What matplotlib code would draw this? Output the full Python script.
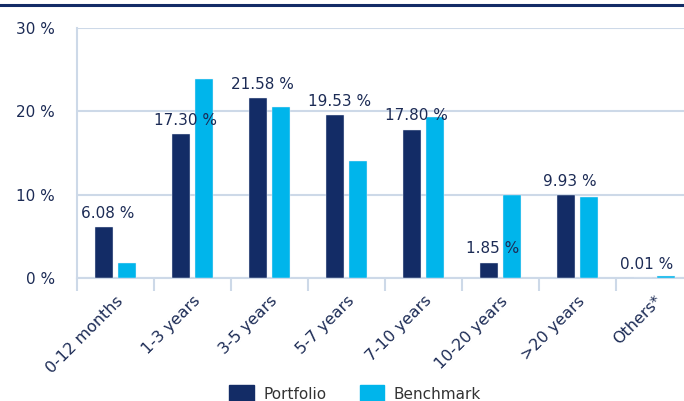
import matplotlib.pyplot as plt
import numpy as np
from matplotlib.patches import Patch
from matplotlib.lines import Line2D

categories = ['0-12 months', '1-3 years', '3-5 years', '5-7 years',
              '7-10 years', '10-20 years', '>20 years', 'Others*']
portfolio = [6.08, 17.30, 21.58, 19.53, 17.80, 1.85, 9.93, 0.01]
benchmark = [1.8, 23.9, 20.55, 14.0, 19.35, 10.0, 9.7, 0.3]
yticks = [0, 10, 20, 30]

NAVY = '#132c66'
CYAN = '#00b5eb'
TEXT = '#1c2b55'
GRID = '#cdd9e8'

plt.rcParams['font.family'] = 'DejaVu Sans'

fig = plt.figure(figsize=(6.84, 4.01), dpi=100)
ax = fig.add_axes([77 / 684, 1 - 278 / 401, (693 - 77) / 684, 250 / 401])

x = np.arange(len(categories))
w = 0.225
ax.bar(x - 0.15, portfolio, w, color=NAVY, edgecolor='#e8eef6', linewidth=0.3, zorder=3)
ax.bar(x + 0.15, benchmark, w, color=CYAN, edgecolor='#e8eef6', linewidth=0.3, zorder=3)

for xi, v in zip(x, portfolio):
    ax.annotate(f'{v:.2f} %', (xi - 0.15, v), xytext=(3, 4.5),
                textcoords='offset points', ha='center', va='bottom',
                fontsize=11, color=TEXT, zorder=4)

ax.set_xlim(-0.5, len(categories) - 0.5)
ax.set_ylim(0, 30)
ax.set_yticks(yticks)
ax.set_yticklabels([f'{t} %' for t in yticks], fontsize=11, color=TEXT)
ax.tick_params(axis='y', length=0, pad=16)
ax.grid(axis='y', color=GRID, linewidth=1.5, zorder=0)

ax.set_xticks(x)
ax.set_xticklabels(categories, rotation=45, ha='right', va='top',
                   rotation_mode='anchor', fontsize=11.5, color=TEXT)
ax.tick_params(axis='x', which='major', length=0, pad=11)
ax.set_xticks(np.arange(len(categories) + 1) - 0.5, minor=True)
ax.tick_params(axis='x', which='minor', length=9, width=1.5, color=GRID)

for s in ['top', 'right']:
    ax.spines[s].set_visible(False)
for s in ['left', 'bottom']:
    ax.spines[s].set_color(GRID)
    ax.spines[s].set_linewidth(1.5)

handles = [Patch(color=NAVY, label='Portfolio'), Patch(color=CYAN, label='Benchmark')]
fig.legend(handles=handles, loc='center', bbox_to_anchor=(355 / 684, 1 - 394 / 401),
           ncol=2, frameon=False, fontsize=11, handlelength=1.6, handleheight=1.4,
           columnspacing=2.2, handletextpad=0.6, labelcolor='#333333')

fig.add_artist(Line2D([0, 1], [1 - 5 / 401, 1 - 5 / 401], color=NAVY, linewidth=2.2))

fig.savefig('out.png', dpi=100)
